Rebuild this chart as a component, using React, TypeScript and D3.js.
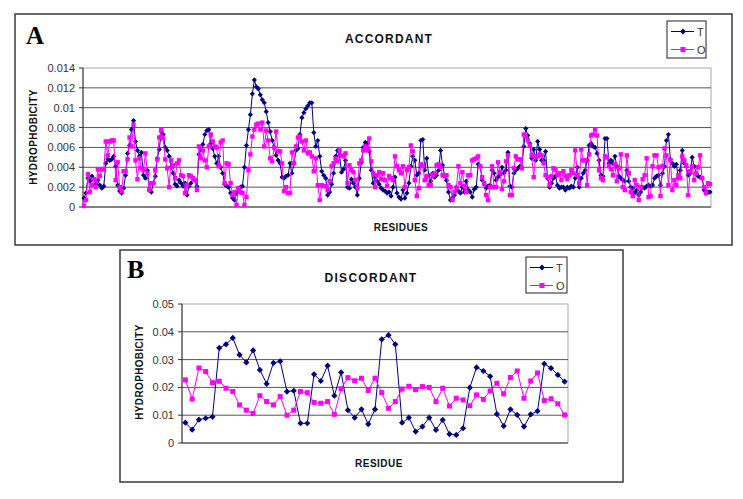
import React from 'react';
import * as d3 from 'd3';

// ---------- DATA ----------
const seriesNames = ['T', 'O'];

const accordantT = [
  0.0009,0.0014,0.0029,0.0026,0.0031,0.0028,0.0023,0.0027,0.0022,0.0019,
  0.0021,0.0044,0.0048,0.0047,0.0048,0.0051,0.0041,0.0022,0.0016,0.0014,
  0.0019,0.0032,0.0054,0.0062,0.0078,0.0087,0.0066,0.0057,0.0051,0.0055,
  0.0032,0.0029,0.0037,0.0017,0.0015,0.0024,0.0031,0.0049,0.0058,0.0076,
  0.0073,0.0060,0.0057,0.0051,0.0040,0.0034,0.0023,0.0021,0.0027,0.0024,
  0.0021,0.0024,0.0012,0.0021,0.0024,0.0029,0.0027,0.0021,0.0053,0.0058,
  0.0063,0.0073,0.0077,0.0078,0.0064,0.0059,0.0051,0.0044,0.0051,0.0040,
  0.0034,0.0023,0.0021,0.0020,0.0014,0.0009,0.0007,0.0014,0.0019,
  0.0020,0.0021,0.0040,0.0062,0.0078,0.0093,0.0114,0.0128,0.0121,0.0119,
  0.0113,0.0108,0.0105,0.0096,0.0085,0.0076,0.0067,0.0060,0.0052,0.0047,
  0.0044,0.0030,0.0029,0.0031,0.0032,0.0044,0.0034,0.0044,0.0057,0.0059,
  0.0073,0.0090,0.0095,0.0099,0.0102,0.0105,0.0105,0.0075,0.0061,0.0067,
  0.0051,0.0036,0.0032,0.0029,0.0012,0.0015,0.0023,0.0034,0.0051,0.0057,
  0.0052,0.0035,0.0038,0.0047,0.0020,0.0019,0.0028,0.0024,0.0020,0.0012,
  0.0029,0.0045,0.0060,0.0065,0.0064,0.0056,0.0037,0.0024,0.0030,0.0026,
  0.0023,0.0019,0.0017,0.0016,0.0014,0.0015,0.0011,0.0020,0.0030,0.0014,
  0.0010,0.0008,0.0017,
  0.0009,0.0014,0.0024,0.0041,0.0051,0.0047,0.0032,0.0034,0.0067,0.0068,
  0.0037,0.0049,0.0032,0.0026,0.0034,0.0030,0.0032,0.0037,0.0057,0.0042,
  0.0032,0.0027,0.0015,0.0007,0.0009,0.0012,0.0020,0.0016,0.0014,0.0020,
  0.0015,0.0026,0.0017,0.0015,0.0010,0.0018,0.0020,0.0043,0.0041,0.0027,
  0.0023,0.0019,0.0021,0.0022,0.0037,0.0034,0.0027,0.0030,0.0032,0.0040,
  0.0034,0.0037,0.0055,0.0021,0.0020,0.0034,0.0037,0.0039,0.0041,0.0040,
  0.0061,0.0079,0.0072,0.0064,0.0049,0.0058,0.0047,0.0066,0.0058,0.0047,
  0.0047,0.0056,0.0029,0.0020,0.0024,0.0029,0.0031,0.0022,0.0019,0.0020,
  0.0020,0.0017,0.0020,0.0019,0.0021,
  0.0020,0.0029,0.0040,0.0020,0.0029,0.0034,0.0037,0.0047,0.0062,0.0064,
  0.0061,0.0060,0.0054,0.0047,0.0032,0.0031,0.0069,0.0069,0.0044,0.0047,
  0.0044,0.0051,0.0041,0.0031,0.0029,0.0027,0.0026,0.0037,0.0026,0.0020,
  0.0019,0.0014,0.0017,0.0012,0.0015,0.0020,0.0019,0.0021,0.0022,0.0021,
  0.0022,0.0029,0.0031,0.0032,0.0022,0.0034,0.0041,0.0067,0.0073,0.0048,
  0.0044,0.0041,0.0043,0.0029,0.0037,0.0057,0.0044,0.0041,0.0032,0.0034,
  0.0050,0.0041,0.0034,0.0031,0.0030,0.0029,0.0017,0.0014,0.0015,0.0015,
];

const accordantO = [
  0.0001,0.0007,0.0033,0.0015,0.0022,0.0028,0.0020,0.0038,0.0031,0.0038,
  0.0038,0.0066,0.0052,0.0066,0.0067,0.0067,0.0027,0.0045,0.0020,0.0016,
  0.0036,0.0036,0.0048,0.0070,0.0061,0.0083,0.0047,0.0028,0.0049,0.0039,
  0.0037,0.0054,0.0034,0.0017,0.0024,0.0024,0.0037,0.0048,0.0070,0.0078,
  0.0069,0.0048,0.0039,0.0020,0.0047,0.0042,0.0029,0.0044,0.0047,0.0032,
  0.0031,0.0014,0.0022,0.0032,0.0031,0.0029,0.0027,0.0017,0.0061,0.0049,
  0.0057,0.0047,0.0040,0.0061,0.0073,0.0066,0.0061,0.0060,0.0041,0.0065,
  0.0067,0.0024,0.0044,0.0043,0.0024,0.0012,0.0015,0.0002,0.0019,
  0.0015,0.0014,0.0002,0.0010,0.0037,0.0053,0.0071,0.0078,0.0083,0.0084,
  0.0078,0.0085,0.0061,0.0077,0.0067,0.0049,0.0046,0.0060,0.0076,0.0056,
  0.0056,0.0044,0.0016,0.0020,0.0014,0.0014,0.0055,0.0044,0.0061,0.0070,
  0.0071,0.0066,0.0057,0.0067,0.0054,0.0055,0.0051,0.0036,0.0049,0.0022,
  0.0007,0.0022,0.0021,0.0021,0.0017,0.0026,0.0041,0.0044,0.0049,0.0046,
  0.0057,0.0052,0.0051,0.0054,0.0024,0.0042,0.0037,0.0035,0.0027,0.0019,
  0.0044,0.0047,0.0057,0.0061,0.0057,0.0069,0.0046,0.0034,0.0020,0.0032,
  0.0035,0.0028,0.0034,0.0027,0.0021,0.0031,0.0029,0.0027,0.0051,0.0041,
  0.0037,0.0034,0.0041,
  0.0020,0.0037,0.0040,0.0062,0.0056,0.0027,0.0011,0.0019,0.0043,0.0041,
  0.0027,0.0031,0.0022,0.0022,0.0032,0.0034,0.0042,0.0043,0.0040,0.0032,
  0.0031,0.0032,0.0022,0.0020,0.0007,0.0015,0.0019,0.0041,0.0024,0.0035,
  0.0021,0.0015,0.0032,0.0032,0.0047,0.0048,0.0049,0.0051,0.0041,0.0030,
  0.0024,0.0012,0.0007,0.0020,0.0041,0.0020,0.0020,0.0045,0.0035,0.0018,
  0.0026,0.0046,0.0052,0.0012,0.0012,0.0039,0.0051,0.0048,0.0048,0.0039,
  0.0073,0.0071,0.0067,0.0062,0.0052,0.0030,0.0051,0.0051,0.0053,0.0052,
  0.0044,0.0032,0.0030,0.0022,0.0031,0.0039,0.0037,0.0032,0.0034,0.0027,
  0.0036,0.0031,0.0028,0.0032,0.0037,
  0.0034,0.0057,0.0032,0.0024,0.0058,0.0047,0.0047,0.0022,0.0053,0.0072,
  0.0073,0.0078,0.0072,0.0037,0.0029,0.0027,0.0051,0.0050,0.0041,0.0038,
  0.0032,0.0043,0.0026,0.0039,0.0053,0.0020,0.0017,0.0052,0.0034,0.0015,
  0.0011,0.0027,0.0022,0.0007,0.0020,0.0028,0.0032,0.0049,0.0010,0.0011,
  0.0041,0.0052,0.0052,0.0040,0.0011,0.0041,0.0059,0.0052,0.0022,0.0047,
  0.0017,0.0027,0.0022,0.0032,0.0029,0.0051,0.0047,0.0042,0.0012,0.0036,
  0.0041,0.0027,0.0034,0.0040,0.0052,0.0029,0.0020,0.0014,0.0024,0.0023,
];

const accordantTicks = [0, 0.002, 0.004, 0.006, 0.008, 0.01, 0.012, 0.014];

const discordantT = [
  0.0073,0.0048,0.0084,0.0089,0.0094,0.0342,0.0355,0.0378,0.0317,0.0290,
  0.0333,0.0263,0.0213,0.0288,0.0294,0.0185,0.0188,0.0071,0.0071,0.0247,
  0.0223,0.0278,0.0170,0.0254,0.0118,0.0091,0.0121,0.0068,0.0121,0.0373,
  0.0388,0.0355,0.0073,0.0091,0.0041,0.0059,0.0091,0.0047,0.0083,0.0032,
  0.0029,0.0053,0.0199,0.0272,0.0259,0.0240,0.0104,0.0061,0.0121,0.0101,
  0.0059,0.0103,0.0115,0.0285,0.0269,0.0245,0.0221,
];

const discordantO = [
  0.0227,0.0158,0.0270,0.0257,0.0217,0.0222,0.0197,0.0185,0.0137,0.0118,
  0.0106,0.0170,0.0149,0.0137,0.0167,0.0100,0.0118,0.0185,0.0181,0.0146,
  0.0143,0.0149,0.0103,0.0195,0.0235,0.0224,0.0233,0.0189,0.0233,0.0181,
  0.0125,0.0149,0.0194,0.0204,0.0192,0.0203,0.0200,0.0149,0.0197,0.0133,
  0.0161,0.0155,0.0134,0.0173,0.0157,0.0187,0.0215,0.0177,0.0236,0.0259,
  0.0161,0.0223,0.0252,0.0153,0.0159,0.0141,0.0101,
];

const discordantTicks = [0, 0.01, 0.02, 0.03, 0.04, 0.05];

// ---------- STYLE / LAYOUT ----------
const T_COLOR = '#000080';
const O_COLOR = '#ff00ff';
const SANS = '"Liberation Sans", Arial, sans-serif';
const SERIF = '"Liberation Serif", "Times New Roman", serif';

type Cfg = {
  box: { x: number; y: number; w: number; h: number };
  plot: { l: number; r: number; t: number; b: number };
  letter: { text: string; x: number; y: number; size: number };
  title: { text: string; x: number; y: number; spacing: number };
  xlab: { text: string; x: number; y: number; spacing: number };
  ylab: { x: number; y: number };
  legend: { x: number; y: number; w: number; h: number };
  dr: number;
  sq: number;
  labelRight: number;
};

const cfgA: Cfg = {
  box: { x: 15, y: 14, w: 717, h: 231 },
  plot: { l: 83, r: 711, t: 68, b: 207 },
  letter: { text: 'A', x: 26, y: 44, size: 25 },
  title: { text: 'ACCORDANT', x: 389, y: 43, spacing: 1.2 },
  xlab: { text: 'RESIDUES', x: 401, y: 231, spacing: 0.4 },
  ylab: { x: 33, y: 137 },
  legend: { x: 667, y: 21, w: 39, h: 37 },
  dr: 2.6,
  sq: 4.4,
  labelRight: 75,
};

const cfgB: Cfg = {
  box: { x: 120, y: 250, w: 503, h: 232 },
  plot: { l: 182, r: 568, t: 304, b: 443 },
  letter: { text: 'B', x: 127, y: 278, size: 26 },
  title: { text: 'DISCORDANT', x: 371, y: 282, spacing: 1.3 },
  xlab: { text: 'RESIDUE', x: 379, y: 467, spacing: 0.5 },
  ylab: { x: 139, y: 372 },
  legend: { x: 526, y: 257, w: 41, h: 36 },
  dr: 3.1,
  sq: 5,
  labelRight: 174,
};

const diamond = (x: number, y: number, r: number) =>
  `M${x},${y - r}L${x + r},${y}L${x},${y + r}L${x - r},${y}Z`;

function Panel({ cfg, t, o, ticks }: { cfg: Cfg; t: number[]; o: number[]; ticks: number[] }) {
  const { plot, box } = cfg;
  const n = Math.max(t.length, o.length);
  const xb = d3.scaleBand<number>().domain(d3.range(n)).range([plot.l, plot.r]);
  const xc = (i: number) => (xb(i) as number) + xb.bandwidth() / 2;
  const y = d3.scaleLinear().domain([0, ticks[ticks.length - 1]]).range([plot.b, plot.t]);
  const line = d3.line<number>().x((_, i) => xc(i)).y((d) => y(d));
  const lg = cfg.legend;
  const rows = [
    { name: seriesNames[0], color: T_COLOR, yy: lg.y + 10.5 },
    { name: seriesNames[1], color: O_COLOR, yy: lg.y + 28.5 },
  ];
  return (
    <g>
      <rect x={box.x} y={box.y} width={box.w} height={box.h} fill="#fff" stroke="#3a3a3a" strokeWidth={1.5} />
      <text x={cfg.letter.x} y={cfg.letter.y} fontFamily={SERIF} fontWeight="bold" fontSize={cfg.letter.size} fill="#000">
        {cfg.letter.text}
      </text>
      <text x={cfg.title.x} y={cfg.title.y} textAnchor="middle" fontFamily={SANS} fontWeight="bold" fontSize={12} letterSpacing={cfg.title.spacing} fill="#111">
        {cfg.title.text}
      </text>
      {/* plot area border */}
      <rect x={plot.l} y={plot.t} width={plot.r - plot.l} height={plot.b - plot.t} fill="#fff" stroke="#a8a8a8" strokeWidth={1} />
      {/* gridlines */}
      {ticks.slice(1, -1).map((v) => (
        <line key={'g' + v} x1={plot.l} x2={plot.r} y1={y(v)} y2={y(v)} stroke="#555" strokeWidth={1} />
      ))}
      {/* axes */}
      <line x1={plot.l} x2={plot.l} y1={plot.t} y2={plot.b} stroke="#333" strokeWidth={1} />
      <line x1={plot.l} x2={plot.r} y1={plot.b} y2={plot.b} stroke="#333" strokeWidth={1} />
      {ticks.map((v) => (
        <g key={'t' + v}>
          <line x1={plot.l - 4} x2={plot.l} y1={y(v)} y2={y(v)} stroke="#333" strokeWidth={1} />
          <text x={cfg.labelRight} y={y(v) + 4} textAnchor="end" fontFamily={SANS} fontSize={11} fill="#333">
            {String(v)}
          </text>
        </g>
      ))}
      <text
        transform={`translate(${cfg.ylab.x},${cfg.ylab.y}) rotate(-90)`}
        textAnchor="middle"
        dominantBaseline="central"
        fontFamily={SANS}
        fontWeight="bold"
        fontSize={10}
        letterSpacing={0.35}
        fill="#111"
      >
        HYDROPHOBICITY
      </text>
      <text x={cfg.xlab.x} y={cfg.xlab.y} textAnchor="middle" fontFamily={SANS} fontWeight="bold" fontSize={10} letterSpacing={cfg.xlab.spacing} fill="#111">
        {cfg.xlab.text}
      </text>
      {/* series T */}
      <path d={line(t) || ''} fill="none" stroke={T_COLOR} strokeWidth={1} />
      {t.map((v, i) => (
        <path key={'tm' + i} d={diamond(xc(i), y(v), cfg.dr)} fill={T_COLOR} />
      ))}
      {/* series O */}
      <path d={line(o) || ''} fill="none" stroke={O_COLOR} strokeWidth={1} />
      {o.map((v, i) => (
        <rect key={'om' + i} x={xc(i) - cfg.sq / 2} y={y(v) - cfg.sq / 2} width={cfg.sq} height={cfg.sq} fill={O_COLOR} />
      ))}
      {/* legend */}
      <rect x={lg.x} y={lg.y} width={lg.w} height={lg.h} fill="#fff" stroke="#222" strokeWidth={1} />
      {rows.map((r, k) => (
        <g key={'l' + k}>
          <line x1={lg.x + 4} x2={lg.x + 27} y1={r.yy} y2={r.yy} stroke={r.color} strokeWidth={1} />
          {k === 0 ? (
            <path d={diamond(lg.x + 16, r.yy, 3)} fill={r.color} />
          ) : (
            <rect x={lg.x + 16 - 2.5} y={r.yy - 2.5} width={5} height={5} fill={r.color} />
          )}
          <text x={lg.x + 30} y={r.yy + 4} fontFamily={SANS} fontSize={11} fill="#333">
            {r.name}
          </text>
        </g>
      ))}
    </g>
  );
}

export default function App() {
  return (
    <svg
      width={743}
      height={499}
      style={{ position: 'absolute', left: 0, top: 0, background: '#fff' }}
    >
      <rect x={0} y={0} width={743} height={499} fill="#fff" />
      <Panel cfg={cfgA} t={accordantT} o={accordantO} ticks={accordantTicks} />
      <Panel cfg={cfgB} t={discordantT} o={discordantO} ticks={discordantTicks} />
    </svg>
  );
}
